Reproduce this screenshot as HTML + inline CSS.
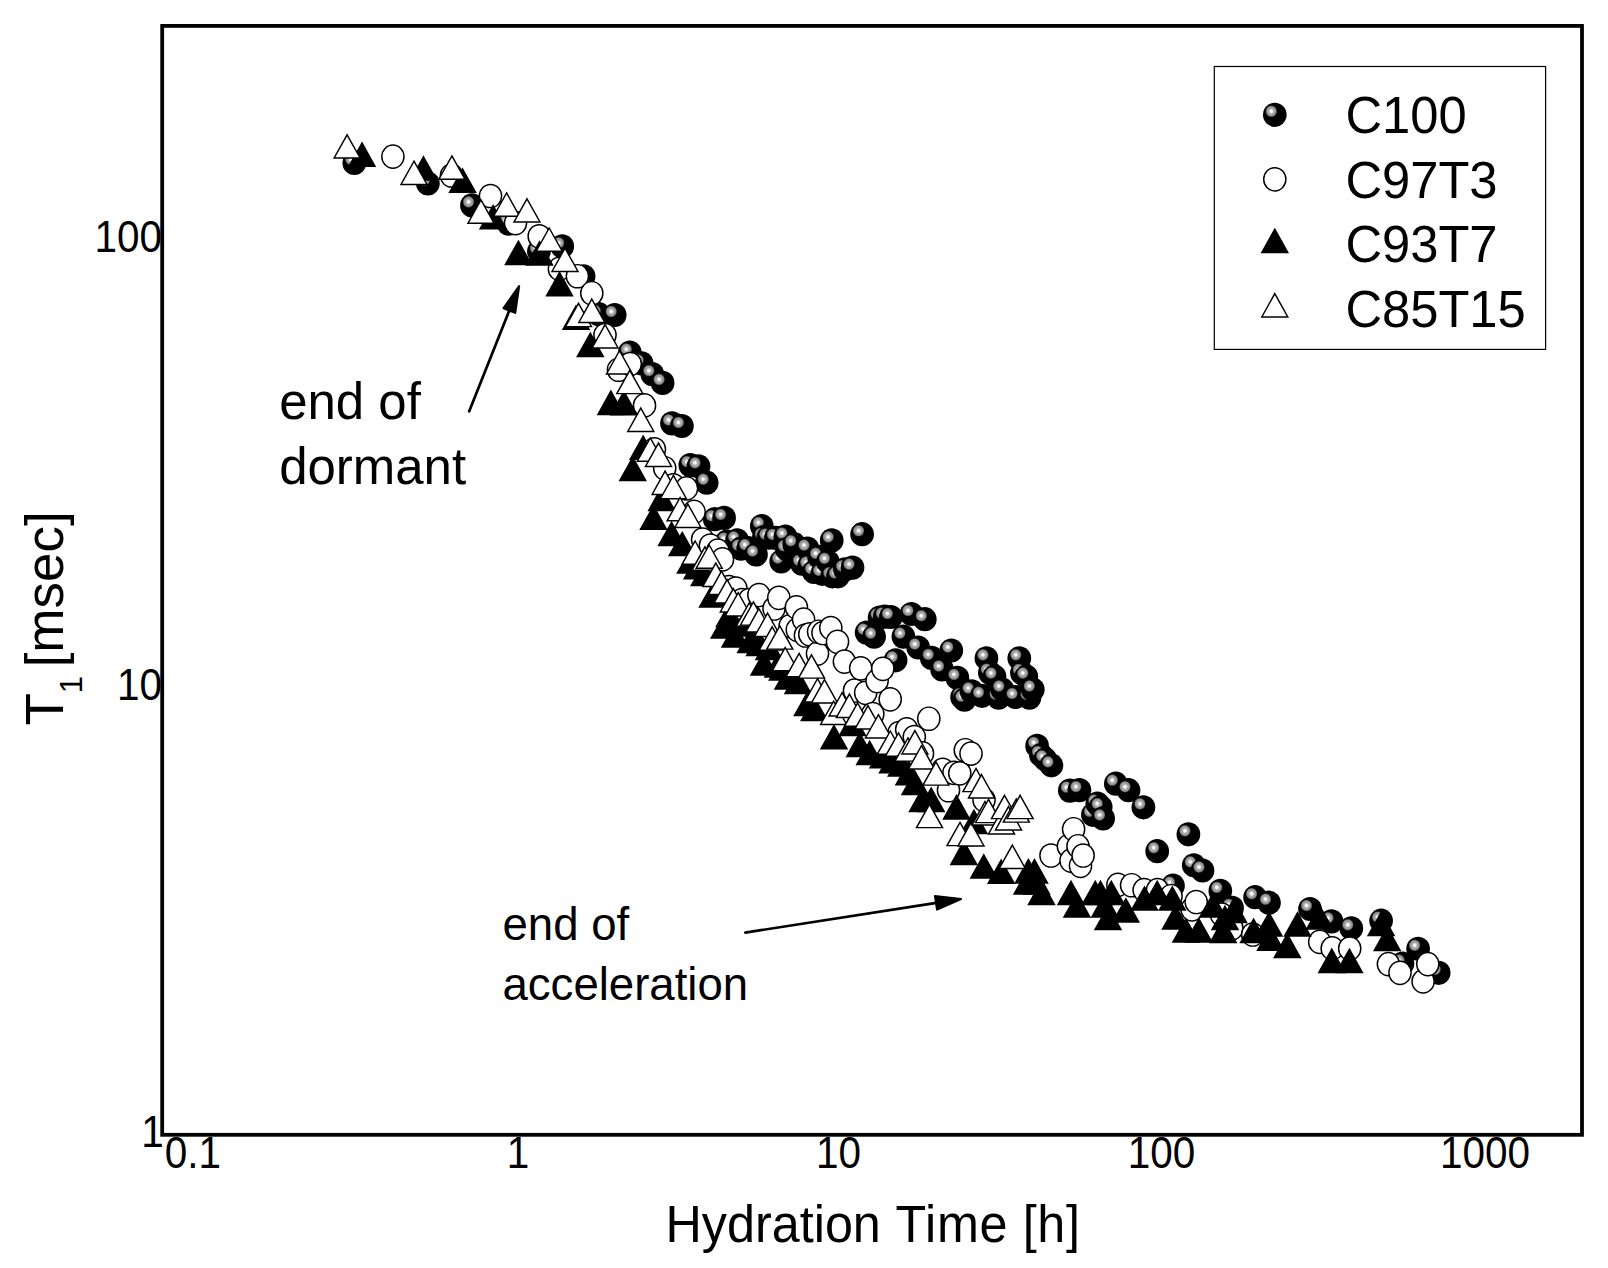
<!DOCTYPE html>
<html lang="en"><head><meta charset="utf-8"><title>T1 relaxation vs hydration time</title>
<style>html,body{margin:0;padding:0;background:#fff}svg{display:block}text{font-family:"Liberation Sans",sans-serif;fill:#000}</style>
</head><body>
<svg width="1608" height="1268" viewBox="0 0 1608 1268">
<defs><radialGradient id="sg" cx="0.352" cy="0.355" r="0.25" fx="0.352" fy="0.355"><stop offset="0" stop-color="#fff"/><stop offset="0.16" stop-color="#fff"/><stop offset="0.42" stop-color="#b0b0b0"/><stop offset="0.78" stop-color="#8c8c8c"/><stop offset="0.9" stop-color="#444"/><stop offset="1" stop-color="#000"/></radialGradient></defs>
<rect width="1608" height="1268" fill="#fff"/>
<g id="c100" fill="url(#sg)">
<ellipse cx="354.3" cy="162.9" rx="11.85" ry="12.1"/>
<ellipse cx="427.9" cy="183.5" rx="11.85" ry="12.1"/>
<ellipse cx="472.0" cy="205.4" rx="11.85" ry="12.1"/>
<ellipse cx="508.6" cy="223.7" rx="11.85" ry="12.1"/>
<ellipse cx="538.9" cy="251.5" rx="11.85" ry="12.1"/>
<ellipse cx="562.2" cy="246.4" rx="11.85" ry="12.1"/>
<ellipse cx="583.6" cy="276.3" rx="11.85" ry="12.1"/>
<ellipse cx="598.7" cy="314.2" rx="11.85" ry="12.1"/>
<ellipse cx="614.7" cy="315.0" rx="11.85" ry="12.1"/>
<ellipse cx="629.8" cy="352.6" rx="11.85" ry="12.1"/>
<ellipse cx="641.6" cy="363.4" rx="11.85" ry="12.1"/>
<ellipse cx="652.3" cy="374.1" rx="11.85" ry="12.1"/>
<ellipse cx="662.6" cy="382.9" rx="11.85" ry="12.1"/>
<ellipse cx="672.0" cy="423.4" rx="11.85" ry="12.1"/>
<ellipse cx="681.9" cy="426.0" rx="11.85" ry="12.1"/>
<ellipse cx="690.3" cy="465.1" rx="11.85" ry="12.1"/>
<ellipse cx="698.5" cy="466.3" rx="11.85" ry="12.1"/>
<ellipse cx="706.7" cy="482.7" rx="11.85" ry="12.1"/>
<ellipse cx="714.8" cy="519.2" rx="11.85" ry="12.1"/>
<ellipse cx="724.1" cy="517.9" rx="11.85" ry="12.1"/>
<ellipse cx="727.0" cy="541.6" rx="11.85" ry="12.1"/>
<ellipse cx="737.1" cy="540.4" rx="11.85" ry="12.1"/>
<ellipse cx="741.1" cy="548.6" rx="11.85" ry="12.1"/>
<ellipse cx="748.2" cy="548.0" rx="11.85" ry="12.1"/>
<ellipse cx="756.0" cy="554.5" rx="11.85" ry="12.1"/>
<ellipse cx="761.8" cy="526.0" rx="11.85" ry="12.1"/>
<ellipse cx="763.9" cy="537.2" rx="11.85" ry="12.1"/>
<ellipse cx="768.4" cy="537.6" rx="11.85" ry="12.1"/>
<ellipse cx="775.9" cy="537.9" rx="11.85" ry="12.1"/>
<ellipse cx="781.2" cy="561.5" rx="11.85" ry="12.1"/>
<ellipse cx="785.4" cy="536.6" rx="11.85" ry="12.1"/>
<ellipse cx="786.9" cy="549.2" rx="11.85" ry="12.1"/>
<ellipse cx="794.2" cy="544.2" rx="11.85" ry="12.1"/>
<ellipse cx="802.0" cy="563.7" rx="11.85" ry="12.1"/>
<ellipse cx="807.5" cy="548.6" rx="11.85" ry="12.1"/>
<ellipse cx="809.2" cy="565.6" rx="11.85" ry="12.1"/>
<ellipse cx="814.0" cy="571.9" rx="11.85" ry="12.1"/>
<ellipse cx="819.1" cy="556.8" rx="11.85" ry="12.1"/>
<ellipse cx="822.2" cy="573.8" rx="11.85" ry="12.1"/>
<ellipse cx="827.9" cy="561.8" rx="11.85" ry="12.1"/>
<ellipse cx="831.7" cy="540.4" rx="11.85" ry="12.1"/>
<ellipse cx="832.3" cy="576.3" rx="11.85" ry="12.1"/>
<ellipse cx="838.0" cy="576.3" rx="11.85" ry="12.1"/>
<ellipse cx="845.0" cy="569.4" rx="11.85" ry="12.1"/>
<ellipse cx="852.5" cy="567.6" rx="11.85" ry="12.1"/>
<ellipse cx="862.1" cy="534.2" rx="11.85" ry="12.1"/>
<ellipse cx="866.6" cy="632.6" rx="11.85" ry="12.1"/>
<ellipse cx="874.1" cy="636.6" rx="11.85" ry="12.1"/>
<ellipse cx="879.6" cy="617.5" rx="11.85" ry="12.1"/>
<ellipse cx="884.8" cy="616.6" rx="11.85" ry="12.1"/>
<ellipse cx="890.9" cy="617.0" rx="11.85" ry="12.1"/>
<ellipse cx="895.6" cy="660.3" rx="11.85" ry="12.1"/>
<ellipse cx="903.4" cy="636.6" rx="11.85" ry="12.1"/>
<ellipse cx="911.4" cy="614.0" rx="11.85" ry="12.1"/>
<ellipse cx="918.2" cy="647.5" rx="11.85" ry="12.1"/>
<ellipse cx="924.8" cy="619.2" rx="11.85" ry="12.1"/>
<ellipse cx="931.7" cy="657.9" rx="11.85" ry="12.1"/>
<ellipse cx="942.1" cy="669.5" rx="11.85" ry="12.1"/>
<ellipse cx="951.3" cy="650.5" rx="11.85" ry="12.1"/>
<ellipse cx="957.4" cy="677.9" rx="11.85" ry="12.1"/>
<ellipse cx="962.1" cy="697.3" rx="11.85" ry="12.1"/>
<ellipse cx="964.5" cy="699.6" rx="11.85" ry="12.1"/>
<ellipse cx="971.6" cy="691.4" rx="11.85" ry="12.1"/>
<ellipse cx="982.0" cy="695.8" rx="11.85" ry="12.1"/>
<ellipse cx="986.4" cy="658.3" rx="11.85" ry="12.1"/>
<ellipse cx="989.8" cy="672.7" rx="11.85" ry="12.1"/>
<ellipse cx="994.5" cy="676.5" rx="11.85" ry="12.1"/>
<ellipse cx="998.6" cy="697.6" rx="11.85" ry="12.1"/>
<ellipse cx="1002.3" cy="689.5" rx="11.85" ry="12.1"/>
<ellipse cx="1015.5" cy="697.0" rx="11.85" ry="12.1"/>
<ellipse cx="1019.3" cy="658.3" rx="11.85" ry="12.1"/>
<ellipse cx="1021.9" cy="673.0" rx="11.85" ry="12.1"/>
<ellipse cx="1026.3" cy="676.5" rx="11.85" ry="12.1"/>
<ellipse cx="1029.5" cy="697.6" rx="11.85" ry="12.1"/>
<ellipse cx="1032.8" cy="689.5" rx="11.85" ry="12.1"/>
<ellipse cx="1037.1" cy="745.9" rx="11.85" ry="12.1"/>
<ellipse cx="1040.9" cy="755.0" rx="11.85" ry="12.1"/>
<ellipse cx="1045.2" cy="759.3" rx="11.85" ry="12.1"/>
<ellipse cx="1051.4" cy="765.3" rx="11.85" ry="12.1"/>
<ellipse cx="1069.8" cy="790.6" rx="11.85" ry="12.1"/>
<ellipse cx="1079.4" cy="790.1" rx="11.85" ry="12.1"/>
<ellipse cx="1092.9" cy="814.8" rx="11.85" ry="12.1"/>
<ellipse cx="1097.3" cy="803.6" rx="11.85" ry="12.1"/>
<ellipse cx="1100.7" cy="807.1" rx="11.85" ry="12.1"/>
<ellipse cx="1103.1" cy="818.4" rx="11.85" ry="12.1"/>
<ellipse cx="1115.8" cy="783.7" rx="11.85" ry="12.1"/>
<ellipse cx="1128.5" cy="790.2" rx="11.85" ry="12.1"/>
<ellipse cx="1143.4" cy="807.3" rx="11.85" ry="12.1"/>
<ellipse cx="1157.2" cy="851.2" rx="11.85" ry="12.1"/>
<ellipse cx="1173.0" cy="885.7" rx="11.85" ry="12.1"/>
<ellipse cx="1188.4" cy="834.3" rx="11.85" ry="12.1"/>
<ellipse cx="1193.8" cy="865.3" rx="11.85" ry="12.1"/>
<ellipse cx="1202.5" cy="870.5" rx="11.85" ry="12.1"/>
<ellipse cx="1220.3" cy="890.9" rx="11.85" ry="12.1"/>
<ellipse cx="1232.1" cy="907.9" rx="11.85" ry="12.1"/>
<ellipse cx="1255.1" cy="897.2" rx="11.85" ry="12.1"/>
<ellipse cx="1269.0" cy="902.7" rx="11.85" ry="12.1"/>
<ellipse cx="1310.0" cy="909.0" rx="11.85" ry="12.1"/>
<ellipse cx="1331.5" cy="921.4" rx="11.85" ry="12.1"/>
<ellipse cx="1351.3" cy="928.3" rx="11.85" ry="12.1"/>
<ellipse cx="1381.1" cy="920.7" rx="11.85" ry="12.1"/>
<ellipse cx="1402.5" cy="963.6" rx="11.85" ry="12.1"/>
<ellipse cx="1418.1" cy="948.8" rx="11.85" ry="12.1"/>
<ellipse cx="1438.7" cy="972.8" rx="11.85" ry="12.1"/>
</g>
<g id="c97t3" fill="#fff" stroke="#000" stroke-width="1.45">
<ellipse cx="392.9" cy="156.6" rx="11.1" ry="11.6"/>
<ellipse cx="451.5" cy="175.5" rx="11.1" ry="11.6"/>
<ellipse cx="490.5" cy="196.0" rx="11.1" ry="11.6"/>
<ellipse cx="515.5" cy="223.1" rx="11.1" ry="11.6"/>
<ellipse cx="539.2" cy="236.3" rx="11.1" ry="11.6"/>
<ellipse cx="559.4" cy="268.9" rx="11.1" ry="11.6"/>
<ellipse cx="577.4" cy="276.2" rx="11.1" ry="11.6"/>
<ellipse cx="591.8" cy="293.2" rx="11.1" ry="11.6"/>
<ellipse cx="605.0" cy="335.0" rx="11.1" ry="11.6"/>
<ellipse cx="618.5" cy="369.7" rx="11.1" ry="11.6"/>
<ellipse cx="630.2" cy="364.0" rx="11.1" ry="11.6"/>
<ellipse cx="644.5" cy="405.4" rx="11.1" ry="11.6"/>
<ellipse cx="654.4" cy="449.3" rx="11.1" ry="11.6"/>
<ellipse cx="664.7" cy="468.2" rx="11.1" ry="11.6"/>
<ellipse cx="673.3" cy="485.3" rx="11.1" ry="11.6"/>
<ellipse cx="686.5" cy="488.4" rx="11.1" ry="11.6"/>
<ellipse cx="694.1" cy="511.9" rx="11.1" ry="11.6"/>
<ellipse cx="702.6" cy="539.5" rx="11.1" ry="11.6"/>
<ellipse cx="710.4" cy="545.5" rx="11.1" ry="11.6"/>
<ellipse cx="717.8" cy="550.6" rx="11.1" ry="11.6"/>
<ellipse cx="722.5" cy="559.4" rx="11.1" ry="11.6"/>
<ellipse cx="729.0" cy="587.1" rx="11.1" ry="11.6"/>
<ellipse cx="735.9" cy="588.5" rx="11.1" ry="11.6"/>
<ellipse cx="742.0" cy="600.0" rx="11.1" ry="11.6"/>
<ellipse cx="749.4" cy="600.0" rx="11.1" ry="11.6"/>
<ellipse cx="758.9" cy="595.0" rx="11.1" ry="11.6"/>
<ellipse cx="774.0" cy="608.5" rx="11.1" ry="11.6"/>
<ellipse cx="778.8" cy="597.8" rx="11.1" ry="11.6"/>
<ellipse cx="790.2" cy="626.0" rx="11.1" ry="11.6"/>
<ellipse cx="796.4" cy="607.3" rx="11.1" ry="11.6"/>
<ellipse cx="797.3" cy="629.8" rx="11.1" ry="11.6"/>
<ellipse cx="803.6" cy="619.6" rx="11.1" ry="11.6"/>
<ellipse cx="805.4" cy="635.5" rx="11.1" ry="11.6"/>
<ellipse cx="809.8" cy="634.3" rx="11.1" ry="11.6"/>
<ellipse cx="817.5" cy="653.6" rx="11.1" ry="11.6"/>
<ellipse cx="818.6" cy="631.7" rx="11.1" ry="11.6"/>
<ellipse cx="823.0" cy="633.0" rx="11.1" ry="11.6"/>
<ellipse cx="830.8" cy="628.0" rx="11.1" ry="11.6"/>
<ellipse cx="837.5" cy="641.8" rx="11.1" ry="11.6"/>
<ellipse cx="844.4" cy="661.6" rx="11.1" ry="11.6"/>
<ellipse cx="854.5" cy="690.5" rx="11.1" ry="11.6"/>
<ellipse cx="860.7" cy="668.3" rx="11.1" ry="11.6"/>
<ellipse cx="865.7" cy="692.8" rx="11.1" ry="11.6"/>
<ellipse cx="872.8" cy="714.0" rx="11.1" ry="11.6"/>
<ellipse cx="877.1" cy="681.0" rx="11.1" ry="11.6"/>
<ellipse cx="882.8" cy="668.8" rx="11.1" ry="11.6"/>
<ellipse cx="890.2" cy="699.3" rx="11.1" ry="11.6"/>
<ellipse cx="899.0" cy="733.0" rx="11.1" ry="11.6"/>
<ellipse cx="906.7" cy="729.4" rx="11.1" ry="11.6"/>
<ellipse cx="914.3" cy="737.0" rx="11.1" ry="11.6"/>
<ellipse cx="922.5" cy="753.4" rx="11.1" ry="11.6"/>
<ellipse cx="928.8" cy="718.7" rx="11.1" ry="11.6"/>
<ellipse cx="942.7" cy="769.8" rx="11.1" ry="11.6"/>
<ellipse cx="948.5" cy="790.2" rx="11.1" ry="11.6"/>
<ellipse cx="954.0" cy="772.8" rx="11.1" ry="11.6"/>
<ellipse cx="959.8" cy="773.3" rx="11.1" ry="11.6"/>
<ellipse cx="965.3" cy="750.2" rx="11.1" ry="11.6"/>
<ellipse cx="971.0" cy="753.6" rx="11.1" ry="11.6"/>
<ellipse cx="984.0" cy="800.0" rx="11.1" ry="11.6"/>
<ellipse cx="1051.0" cy="855.5" rx="11.1" ry="11.6"/>
<ellipse cx="1068.4" cy="846.2" rx="11.1" ry="11.6"/>
<ellipse cx="1071.0" cy="860.6" rx="11.1" ry="11.6"/>
<ellipse cx="1073.6" cy="829.2" rx="11.1" ry="11.6"/>
<ellipse cx="1078.0" cy="846.2" rx="11.1" ry="11.6"/>
<ellipse cx="1080.5" cy="865.8" rx="11.1" ry="11.6"/>
<ellipse cx="1083.1" cy="855.5" rx="11.1" ry="11.6"/>
<ellipse cx="1117.9" cy="884.9" rx="11.1" ry="11.6"/>
<ellipse cx="1131.6" cy="885.2" rx="11.1" ry="11.6"/>
<ellipse cx="1144.1" cy="890.1" rx="11.1" ry="11.6"/>
<ellipse cx="1157.5" cy="890.1" rx="11.1" ry="11.6"/>
<ellipse cx="1171.0" cy="896.2" rx="11.1" ry="11.6"/>
<ellipse cx="1192.0" cy="909.3" rx="11.1" ry="11.6"/>
<ellipse cx="1196.2" cy="902.0" rx="11.1" ry="11.6"/>
<ellipse cx="1221.5" cy="914.5" rx="11.1" ry="11.6"/>
<ellipse cx="1231.9" cy="928.4" rx="11.1" ry="11.6"/>
<ellipse cx="1252.7" cy="934.5" rx="11.1" ry="11.6"/>
<ellipse cx="1319.7" cy="941.9" rx="11.1" ry="11.6"/>
<ellipse cx="1332.2" cy="948.4" rx="11.1" ry="11.6"/>
<ellipse cx="1349.7" cy="948.5" rx="11.1" ry="11.6"/>
<ellipse cx="1388.4" cy="964.1" rx="11.1" ry="11.6"/>
<ellipse cx="1400.0" cy="972.8" rx="11.1" ry="11.6"/>
<ellipse cx="1423.1" cy="981.4" rx="11.1" ry="11.6"/>
<ellipse cx="1427.8" cy="964.1" rx="11.1" ry="11.6"/>
</g>
<g id="c93t7" fill="#000" stroke="#000" stroke-width="1.45" stroke-linejoin="miter">
<path d="M362.0,142.9L375.0,166.2L349.0,166.2Z"/>
<path d="M423.5,156.8L436.5,180.0L410.5,180.0Z"/>
<path d="M462.6,169.1L475.6,192.3L449.6,192.3Z"/>
<path d="M493.1,205.5L506.1,228.8L480.1,228.8Z"/>
<path d="M518.4,241.2L531.4,264.4L505.4,264.4Z"/>
<path d="M539.5,241.7L552.5,264.9L526.5,264.9Z"/>
<path d="M559.5,272.4L572.5,295.7L546.5,295.7Z"/>
<path d="M576.0,305.9L589.0,329.2L563.0,329.2Z"/>
<path d="M590.3,333.2L603.3,356.5L577.3,356.5Z"/>
<path d="M610.9,391.1L623.9,414.4L597.9,414.4Z"/>
<path d="M623.9,391.4L636.9,414.7L610.9,414.7Z"/>
<path d="M632.8,457.3L645.8,480.6L619.8,480.6Z"/>
<path d="M643.2,436.0L656.2,459.2L630.2,459.2Z"/>
<path d="M653.5,506.0L666.5,529.2L640.5,529.2Z"/>
<path d="M661.7,487.1L674.7,510.4L648.7,510.4Z"/>
<path d="M671.6,522.3L684.6,545.6L658.6,545.6Z"/>
<path d="M682.2,532.4L695.2,555.6L669.2,555.6Z"/>
<path d="M690.4,549.9L703.4,573.1L677.4,573.1Z"/>
<path d="M697.1,555.5L710.1,578.8L684.1,578.8Z"/>
<path d="M704.3,562.2L717.3,585.5L691.3,585.5Z"/>
<path d="M712.5,583.9L725.5,607.1L699.5,607.1Z"/>
<path d="M724.2,614.9L737.2,638.1L711.2,638.1Z"/>
<path d="M729.4,603.2L742.4,626.5L716.4,626.5Z"/>
<path d="M735.0,623.9L748.0,647.1L722.0,647.1Z"/>
<path d="M743.5,612.9L756.5,636.1L730.5,636.1Z"/>
<path d="M750.7,629.2L763.7,652.5L737.7,652.5Z"/>
<path d="M759.6,632.3L772.6,655.6L746.6,655.6Z"/>
<path d="M764.0,651.9L777.0,675.1L751.0,675.1Z"/>
<path d="M769.0,636.1L782.0,659.4L756.0,659.4Z"/>
<path d="M777.9,653.8L790.9,677.1L764.9,677.1Z"/>
<path d="M782.3,656.9L795.3,680.1L769.3,680.1Z"/>
<path d="M788.0,665.8L801.0,689.1L775.0,689.1Z"/>
<path d="M798.0,670.1L811.0,693.4L785.0,693.4Z"/>
<path d="M807.4,692.2L820.4,715.5L794.4,715.5Z"/>
<path d="M814.3,697.2L827.3,720.5L801.3,720.5Z"/>
<path d="M834.0,725.5L847.0,748.8L821.0,748.8Z"/>
<path d="M852.5,712.3L865.5,735.6L839.5,735.6Z"/>
<path d="M859.7,733.1L872.7,756.4L846.7,756.4Z"/>
<path d="M869.7,741.3L882.7,764.6L856.7,764.6Z"/>
<path d="M883.0,744.5L896.0,767.8L870.0,767.8Z"/>
<path d="M892.5,749.5L905.5,772.8L879.5,772.8Z"/>
<path d="M901.3,752.7L914.3,776.0L888.3,776.0Z"/>
<path d="M908.9,761.5L921.9,784.8L895.9,784.8Z"/>
<path d="M915.0,771.3L928.0,794.6L902.0,794.6Z"/>
<path d="M922.5,788.2L935.5,811.5L909.5,811.5Z"/>
<path d="M931.2,788.1L944.2,811.4L918.2,811.4Z"/>
<path d="M956.5,795.6L969.5,818.9L943.5,818.9Z"/>
<path d="M963.8,841.1L976.8,864.4L950.8,864.4Z"/>
<path d="M974.0,810.3L987.0,833.6L961.0,833.6Z"/>
<path d="M983.8,854.8L996.8,878.1L970.8,878.1Z"/>
<path d="M1001.2,860.0L1014.2,883.2L988.2,883.2Z"/>
<path d="M1027.0,870.9L1040.0,894.1L1014.0,894.1Z"/>
<path d="M1028.4,859.6L1041.4,882.9L1015.4,882.9Z"/>
<path d="M1034.5,859.6L1047.5,882.9L1021.5,882.9Z"/>
<path d="M1036.5,870.9L1049.5,894.1L1023.5,894.1Z"/>
<path d="M1041.5,881.1L1054.5,904.4L1028.5,904.4Z"/>
<path d="M1071.0,881.3L1084.0,904.6L1058.0,904.6Z"/>
<path d="M1077.0,893.9L1090.0,917.1L1064.0,917.1Z"/>
<path d="M1095.3,881.3L1108.3,904.6L1082.3,904.6Z"/>
<path d="M1100.5,881.3L1113.5,904.6L1087.5,904.6Z"/>
<path d="M1104.8,893.9L1117.8,917.1L1091.8,917.1Z"/>
<path d="M1108.0,906.2L1121.0,929.5L1095.0,929.5Z"/>
<path d="M1111.3,881.3L1124.3,904.6L1098.3,904.6Z"/>
<path d="M1125.8,898.7L1138.8,922.0L1112.8,922.0Z"/>
<path d="M1144.5,886.9L1157.5,910.1L1131.5,910.1Z"/>
<path d="M1157.2,881.3L1170.2,904.6L1144.2,904.6Z"/>
<path d="M1172.3,886.9L1185.3,910.1L1159.3,910.1Z"/>
<path d="M1175.5,905.7L1188.5,929.0L1162.5,929.0Z"/>
<path d="M1185.9,918.8L1198.9,942.1L1172.9,942.1Z"/>
<path d="M1198.9,918.8L1211.9,942.1L1185.9,942.1Z"/>
<path d="M1212.8,893.9L1225.8,917.1L1199.8,917.1Z"/>
<path d="M1223.2,919.1L1236.2,942.4L1210.2,942.4Z"/>
<path d="M1225.0,906.3L1238.0,929.6L1212.0,929.6Z"/>
<path d="M1233.6,899.1L1246.6,922.4L1220.6,922.4Z"/>
<path d="M1253.6,919.1L1266.6,942.4L1240.6,942.4Z"/>
<path d="M1269.0,912.7L1282.0,936.0L1256.0,936.0Z"/>
<path d="M1270.5,927.0L1283.5,950.2L1257.5,950.2Z"/>
<path d="M1287.3,934.1L1300.3,957.4L1274.3,957.4Z"/>
<path d="M1297.5,912.7L1310.5,936.0L1284.5,936.0Z"/>
<path d="M1319.7,905.8L1332.7,929.1L1306.7,929.1Z"/>
<path d="M1331.8,949.1L1344.8,972.4L1318.8,972.4Z"/>
<path d="M1349.4,949.2L1362.4,972.5L1336.4,972.5Z"/>
<path d="M1381.1,912.4L1394.1,935.6L1368.1,935.6Z"/>
<path d="M1387.2,927.2L1400.2,950.5L1374.2,950.5Z"/>
</g>
<g id="c85t15" fill="#fff" stroke="#000" stroke-width="1.45" stroke-linejoin="miter">
<path d="M347.1,134.8L360.1,158.0L334.1,158.0Z"/>
<path d="M414.0,161.2L427.0,184.4L401.0,184.4Z"/>
<path d="M451.9,155.9L464.9,179.2L438.9,179.2Z"/>
<path d="M481.0,199.9L494.0,223.2L468.0,223.2Z"/>
<path d="M506.6,192.9L519.6,216.2L493.6,216.2Z"/>
<path d="M527.0,198.8L540.0,222.0L514.0,222.0Z"/>
<path d="M549.2,228.0L562.2,251.2L536.2,251.2Z"/>
<path d="M565.0,248.2L578.0,271.5L552.0,271.5Z"/>
<path d="M578.5,303.3L591.5,326.6L565.5,326.6Z"/>
<path d="M591.8,299.1L604.8,322.4L578.8,322.4Z"/>
<path d="M605.1,324.6L618.1,347.9L592.1,347.9Z"/>
<path d="M619.5,350.7L632.5,374.0L606.5,374.0Z"/>
<path d="M629.8,370.3L642.8,393.6L616.8,393.6Z"/>
<path d="M640.8,408.1L653.8,431.4L627.8,431.4Z"/>
<path d="M650.3,437.9L663.3,461.2L637.3,461.2Z"/>
<path d="M658.5,443.1L671.5,466.4L645.5,466.4Z"/>
<path d="M665.1,471.1L678.1,494.4L652.1,494.4Z"/>
<path d="M673.4,475.4L686.4,498.7L660.4,498.7Z"/>
<path d="M680.1,497.5L693.1,520.8L667.1,520.8Z"/>
<path d="M687.9,504.1L700.9,527.4L674.9,527.4Z"/>
<path d="M695.1,541.0L708.1,564.2L682.1,564.2Z"/>
<path d="M705.0,546.8L718.0,570.1L692.0,570.1Z"/>
<path d="M709.2,545.0L722.2,568.2L696.2,568.2Z"/>
<path d="M715.8,563.1L728.8,586.4L702.8,586.4Z"/>
<path d="M721.5,571.1L734.5,594.4L708.5,594.4Z"/>
<path d="M727.1,579.6L740.1,602.9L714.1,602.9Z"/>
<path d="M733.3,588.6L746.3,611.9L720.3,611.9Z"/>
<path d="M738.2,592.7L751.2,616.0L725.2,616.0Z"/>
<path d="M749.2,602.9L762.2,626.1L736.2,626.1Z"/>
<path d="M753.4,601.9L766.4,625.1L740.4,625.1Z"/>
<path d="M758.9,608.6L771.9,631.9L745.9,631.9Z"/>
<path d="M767.6,613.1L780.6,636.4L754.6,636.4Z"/>
<path d="M772.2,626.8L785.2,650.1L759.2,650.1Z"/>
<path d="M779.8,625.9L792.8,649.1L766.8,649.1Z"/>
<path d="M785.2,647.5L798.2,670.8L772.2,670.8Z"/>
<path d="M799.1,653.4L812.1,676.6L786.1,676.6Z"/>
<path d="M811.5,654.8L824.5,678.1L798.5,678.1Z"/>
<path d="M817.5,678.7L830.5,702.0L804.5,702.0Z"/>
<path d="M824.5,679.6L837.5,702.9L811.5,702.9Z"/>
<path d="M833.6,701.2L846.6,724.5L820.6,724.5Z"/>
<path d="M842.1,692.7L855.1,716.0L829.1,716.0Z"/>
<path d="M849.4,694.1L862.4,717.4L836.4,717.4Z"/>
<path d="M857.6,702.9L870.6,726.1L844.6,726.1Z"/>
<path d="M868.0,705.6L881.0,728.9L855.0,728.9Z"/>
<path d="M878.4,714.7L891.4,738.0L865.4,738.0Z"/>
<path d="M890.3,731.0L903.3,754.2L877.3,754.2Z"/>
<path d="M898.5,732.9L911.5,756.1L885.5,756.1Z"/>
<path d="M908.0,737.9L921.0,761.1L895.0,761.1Z"/>
<path d="M914.9,730.6L927.9,753.9L901.9,753.9Z"/>
<path d="M921.5,745.7L934.5,769.0L908.5,769.0Z"/>
<path d="M929.5,804.3L942.5,827.6L916.5,827.6Z"/>
<path d="M936.0,761.9L949.0,785.1L923.0,785.1Z"/>
<path d="M960.0,822.4L973.0,845.6L947.0,845.6Z"/>
<path d="M971.0,822.6L984.0,845.9L958.0,845.9Z"/>
<path d="M976.0,768.4L989.0,791.6L963.0,791.6Z"/>
<path d="M981.5,774.6L994.5,797.9L968.5,797.9Z"/>
<path d="M985.0,801.6L998.0,824.9L972.0,824.9Z"/>
<path d="M988.5,799.4L1001.5,822.6L975.5,822.6Z"/>
<path d="M1001.5,810.6L1014.5,833.9L988.5,833.9Z"/>
<path d="M1004.5,795.3L1017.5,818.6L991.5,818.6Z"/>
<path d="M1008.5,806.6L1021.5,829.9L995.5,829.9Z"/>
<path d="M1012.3,845.1L1025.3,868.4L999.3,868.4Z"/>
<path d="M1016.3,798.9L1029.3,822.1L1003.3,822.1Z"/>
<path d="M1020.1,795.3L1033.1,818.6L1007.1,818.6Z"/>
</g>
<rect x="162.2" y="25.9" width="1419.8" height="1108.9" fill="none" stroke="#000" stroke-width="3.8"/>
<text transform="translate(162.0,251.7) scale(0.91,1)" font-size="44.5" text-anchor="end">100</text>
<text transform="translate(162.0,699.7) scale(0.91,1)" font-size="44.5" text-anchor="end">10</text>
<text transform="translate(163.8,1147.0) scale(0.91,1)" font-size="44.5" text-anchor="end">1</text>
<text transform="translate(192.9,1168.0) scale(0.91,1)" font-size="44.5" text-anchor="middle">0.1</text>
<text transform="translate(518.0,1168.0) scale(0.91,1)" font-size="44.5" text-anchor="middle">1</text>
<text transform="translate(838.6,1168.0) scale(0.91,1)" font-size="44.5" text-anchor="middle">10</text>
<text transform="translate(1161.6,1168.0) scale(0.91,1)" font-size="44.5" text-anchor="middle">100</text>
<text transform="translate(1485.0,1168.0) scale(0.91,1)" font-size="44.5" text-anchor="middle">1000</text>
<text transform="translate(665.5,1241.5) scale(0.968,1)" font-size="52">Hydration <tspan x="237.5" letter-spacing="0.75">Time</tspan> <tspan x="369" letter-spacing="0.7">[h]</tspan></text>
<text transform="translate(63.3,725.6) rotate(-90)" font-size="53">T<tspan font-size="31" dy="18.6">1&#160;</tspan><tspan dy="-18.6">[msec]</tspan></text>
<rect x="1214.3" y="66.5" width="331.3" height="282.9" fill="#fff" stroke="#000" stroke-width="1.2"/>
<ellipse cx="1274.8" cy="114.8" rx="11.85" ry="12.1" fill="url(#sg)"/>
<ellipse cx="1274.8" cy="179.3" rx="11.1" ry="11.6" fill="#fff" stroke="#000" stroke-width="1.45"/>
<path d="M1274.8,229.2L1287.8,252.4L1261.8,252.4Z" fill="#000" stroke="#000" stroke-width="1.45"/>
<path d="M1274.8,293.6L1287.8,316.9L1261.8,316.9Z" fill="#fff" stroke="#000" stroke-width="1.45"/>
<text transform="translate(1345.4,132.8) scale(0.975,1)" font-size="52">C100</text>
<text transform="translate(1345.4,197.9) scale(0.975,1)" font-size="52">C97T3</text>
<text transform="translate(1345.4,262.1) scale(0.975,1)" font-size="52">C93T7</text>
<text transform="translate(1345.4,326.9) scale(0.975,1)" font-size="52">C85T15</text>
<text transform="translate(279.2,419.4) scale(0.98,1)" font-size="52">end of</text>
<text transform="translate(279.2,483.7) scale(0.98,1)" font-size="52">dormant</text>
<text transform="translate(502.5,940.2) scale(0.98,1)" font-size="46.5">end of</text>
<text transform="translate(502.5,999.7) scale(0.98,1)" font-size="46.5">acceleration</text>
<line x1="469.2" y1="411.3" x2="510.1" y2="308.6" stroke="#000" stroke-width="2.7" stroke-linecap="round"/>
<path d="M519.1,286.1L515.2,312.8L503.6,308.2Z" fill="#000" stroke="#000" stroke-width="2.2" stroke-linejoin="round"/>
<line x1="745.3" y1="932.6" x2="938.0" y2="902.6" stroke="#000" stroke-width="2.7" stroke-linecap="round"/>
<path d="M961.0,899.0L937.1,909.5L935.0,896.2Z" fill="#000" stroke="#000" stroke-width="2.2" stroke-linejoin="round"/>
</svg></body></html>
